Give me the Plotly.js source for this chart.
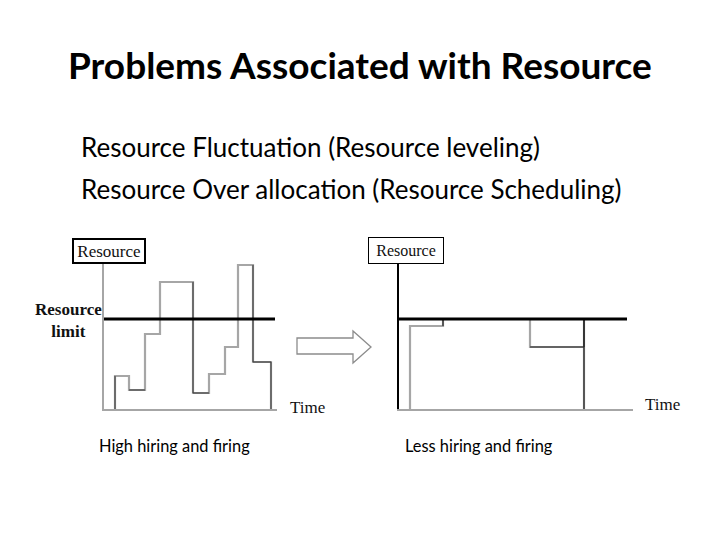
<!DOCTYPE html>
<html>
<head>
<meta charset="utf-8">
<script src="https://cdn.plot.ly/plotly-3.0.1.min.js"></script>
<style>html,body{margin:0;padding:0;background:#fff;}#chart{width:720px;height:540px;}</style>
</head>
<body>
<div id="chart"></div>
<script>
// ---- data (time units, resource units) ----
var resourceLimit = 9.0;
// Left chart: high hiring and firing
var leftTimes  = [1.1, 1.1, 2.5, 4.1, 5.6, 8.9, 10.5, 12.1, 13.4, 14.9, 16.7];
var leftLevels = [0, 3.3, 1.9, 7.5, 12.7, 1.6, 3.5, 6.2, 14.4, 4.7, 0];
var leftLimitEnd = 17.1;
var leftBlackSegments = [0, 3, 8, 9, 16, 17, 18];
// Right chart: less hiring and firing
var rightTimes  = [1.1, 1.1, 4.4, 13.1, 18.5, 18.5];
var rightLevels = [0, 8.3, 9.0, 6.2, 9.0, 0];
var rightLimitEnd = 22.8;
var rightBlackSegments = [2, 5, 6, 7];

var titleText = "Problems Associated with Resource";
var bulletLines = ["Resource Fluctuation (Resource leveling)", "Resource Over allocation (Resource Scheduling)"];
var captions = ["High hiring and firing", "Less hiring and firing"];

// expand hv step into explicit vertices
function stepVertices(xs, ys) {
  var vx = [xs[0]], vy = [ys[0]];
  for (var i = 1; i < xs.length; i++) {
    if (xs[i] !== vx[vx.length - 1]) { vx.push(xs[i]); vy.push(vy[vy.length - 1]); }
    if (ys[i] !== vy[vy.length - 1]) { vx.push(xs[i]); vy.push(ys[i]); }
  }
  return {x: vx, y: vy};
}
function segs(v, idx) {
  var x = [], y = [];
  idx.forEach(function (i) {
    if (i + 1 < v.x.length) { x.push(v.x[i], v.x[i + 1], null); y.push(v.y[i], v.y[i + 1], null); }
  });
  return {x: x, y: y};
}
var lv = stepVertices(leftTimes, leftLevels);
var rv = stepVertices(rightTimes, rightLevels);
var lb = segs(lv, leftBlackSegments);
var rb = segs(rv, rightBlackSegments);

var gray = '#a6a6a6';
var traces = [
  {x: lv.x, y: lv.y, mode: 'lines', line: {color: gray, width: 2.2}, xaxis: 'x', yaxis: 'y', hoverinfo: 'skip'},
  {x: lb.x, y: lb.y, mode: 'lines', line: {color: '#333', width: 1}, xaxis: 'x', yaxis: 'y', hoverinfo: 'skip'},
  {x: [0, leftLimitEnd], y: [resourceLimit, resourceLimit], mode: 'lines', line: {color: '#000', width: 3}, xaxis: 'x', yaxis: 'y', hoverinfo: 'skip'},
  {x: rv.x, y: rv.y, mode: 'lines', line: {color: gray, width: 2.2}, xaxis: 'x2', yaxis: 'y2', hoverinfo: 'skip'},
  {x: rb.x, y: rb.y, mode: 'lines', line: {color: '#222', width: 1.2}, xaxis: 'x2', yaxis: 'y2', hoverinfo: 'skip'},
  {x: [0, rightLimitEnd], y: [resourceLimit, resourceLimit], mode: 'lines', line: {color: '#000', width: 3}, xaxis: 'x2', yaxis: 'y2', hoverinfo: 'skip'}
];

function px(x) { return x / 720; }
function py(y) { return 1 - y / 540; }
function ax(dom, range, color) {
  return {domain: dom, range: range, showline: true, linecolor: color, linewidth: 2,
    showgrid: false, zeroline: false, showticklabels: false, ticks: '', fixedrange: true};
}
var sans = 'Lato, "Open Sans", sans-serif';
var serif = '"Liberation Serif", "Times New Roman", serif';

var layout = {
  width: 720, height: 540,
  margin: {l: 0, r: 0, t: 0, b: 0},
  paper_bgcolor: '#fff', plot_bgcolor: 'rgba(0,0,0,0)',
  showlegend: false,
  xaxis: Object.assign(ax([px(104), px(277)], [0, 17.3], gray), {anchor: 'y'}),
  yaxis: Object.assign(ax([py(409), py(263)], [0, 14.6], gray), {anchor: 'x'}),
  xaxis2: Object.assign(ax([px(399), px(633)], [0, 23.4], gray), {anchor: 'y2'}),
  yaxis2: Object.assign(ax([py(409), py(263)], [0, 14.6], '#000'), {anchor: 'x2'}),
  shapes: [
    {type: 'path', xref: 'paper', yref: 'paper',
     path: 'M' + px(297) + ',' + py(338) + ' L' + px(353) + ',' + py(338) + ' L' + px(353) + ',' + py(331) +
           ' L' + px(371) + ',' + py(347) + ' L' + px(353) + ',' + py(363) + ' L' + px(353) + ',' + py(354) +
           ' L' + px(297) + ',' + py(354) + ' Z',
     line: {color: '#8c8c8c', width: 1.3}, fillcolor: '#fff'}
  ],
  annotations: [
    {text: '<b>' + titleText + '</b>', xref: 'paper', yref: 'paper', x: px(360), y: py(65), xanchor: 'center', yanchor: 'middle',
     showarrow: false, font: {family: sans, size: 37, color: '#000'}},
    {text: bulletLines[0], xref: 'paper', yref: 'paper', x: px(79), y: py(147), xanchor: 'left', yanchor: 'middle',
     showarrow: false, font: {family: sans, size: 26, color: '#000'}},
    {text: bulletLines[1], xref: 'paper', yref: 'paper', x: px(79), y: py(189), xanchor: 'left', yanchor: 'middle',
     showarrow: false, font: {family: sans, size: 26, color: '#000'}},
    {text: captions[0], xref: 'paper', yref: 'paper', x: px(97), y: py(445), xanchor: 'left', yanchor: 'middle',
     showarrow: false, font: {family: sans, size: 16.4, color: '#000'}},
    {text: captions[1], xref: 'paper', yref: 'paper', x: px(403), y: py(445), xanchor: 'left', yanchor: 'middle',
     showarrow: false, font: {family: sans, size: 16.4, color: '#000'}},
    {text: 'Resource', xref: 'paper', yref: 'paper', x: px(109), y: py(250.5), xanchor: 'center', yanchor: 'middle',
     width: 70, height: 22, bordercolor: '#000', borderwidth: 2, borderpad: 0, bgcolor: '#fff',
     showarrow: false, font: {family: serif, size: 17, color: '#111'}},
    {text: 'Resource', xref: 'paper', yref: 'paper', x: px(406), y: py(250.5), xanchor: 'center', yanchor: 'middle',
     width: 74, height: 25, bordercolor: '#000', borderwidth: 1, borderpad: 0, bgcolor: '#fff',
     showarrow: false, font: {family: serif, size: 16, color: '#111'}},
    {text: '<b>Resource</b><br><b>limit</b>', xref: 'paper', yref: 'paper', x: px(68), y: py(320), xanchor: 'center', yanchor: 'middle',
     align: 'center', showarrow: false, font: {family: serif, size: 17, color: '#111'}},
    {text: 'Time', xref: 'paper', yref: 'paper', x: px(288), y: py(407), xanchor: 'left', yanchor: 'middle',
     showarrow: false, font: {family: serif, size: 17, color: '#111'}},
    {text: 'Time', xref: 'paper', yref: 'paper', x: px(643), y: py(404), xanchor: 'left', yanchor: 'middle',
     showarrow: false, font: {family: serif, size: 17, color: '#111'}}
  ]
};

Plotly.newPlot('chart', traces, layout, {staticPlot: true, displayModeBar: false});
</script>
</body>
</html>
